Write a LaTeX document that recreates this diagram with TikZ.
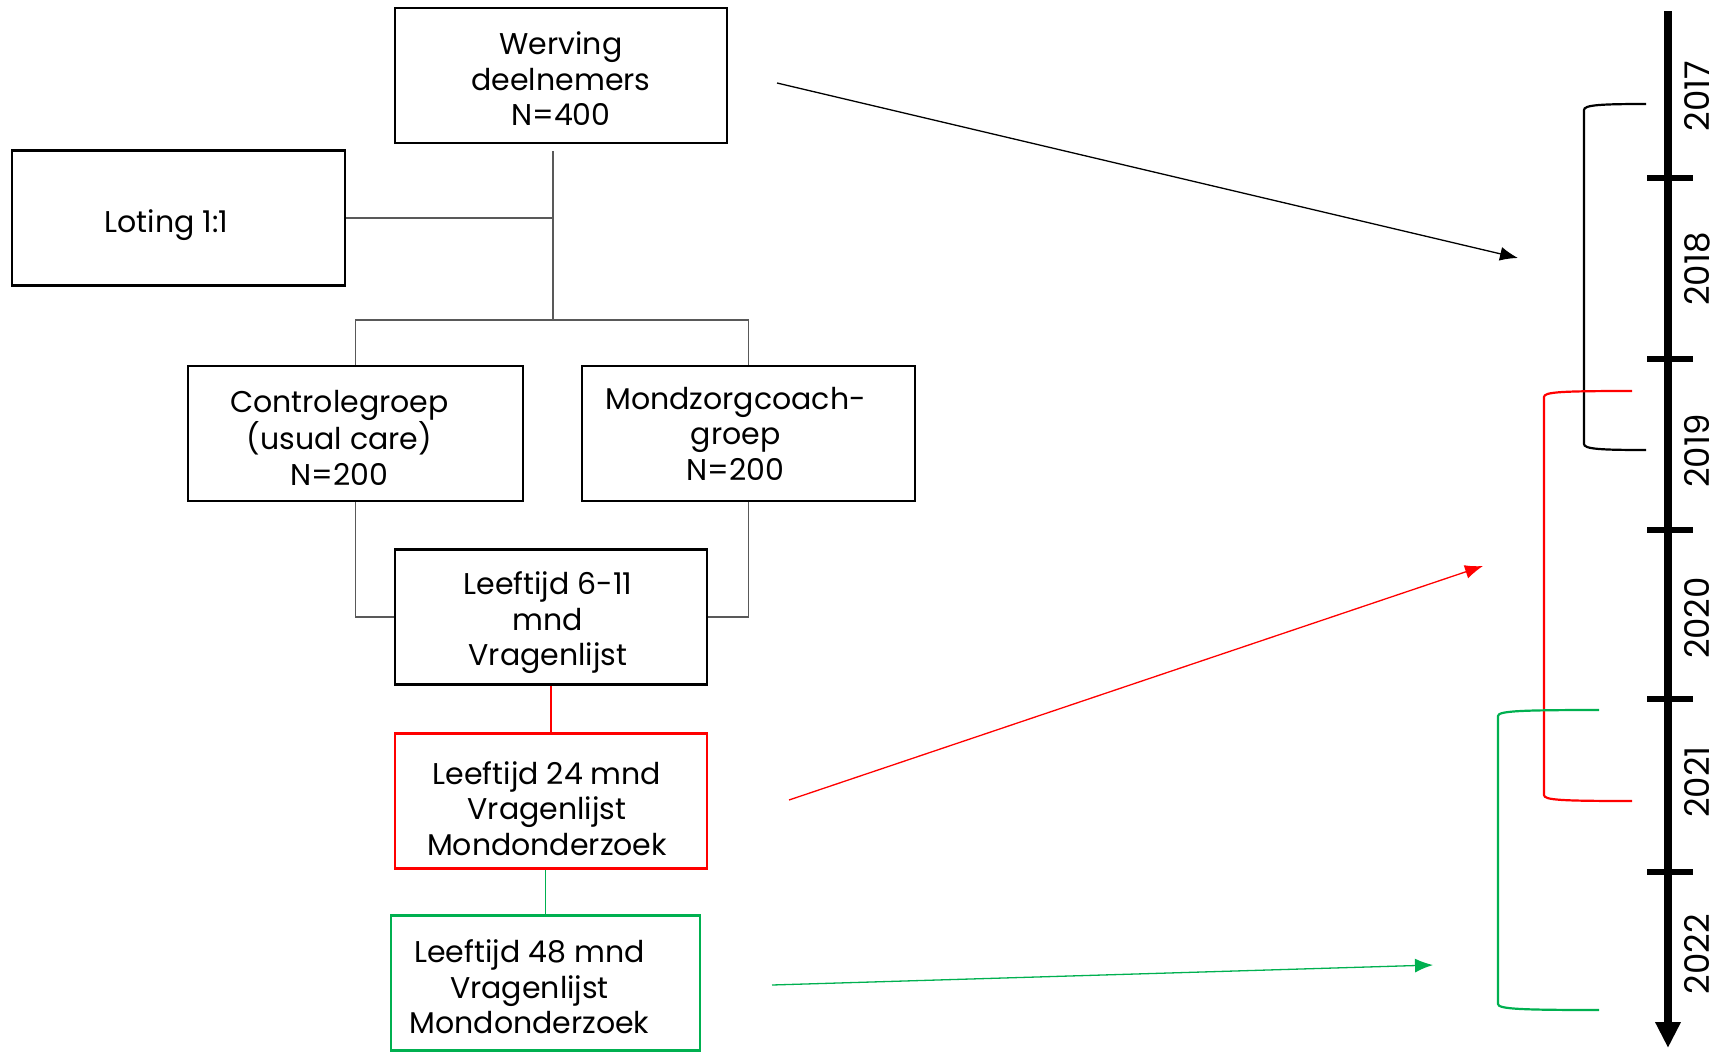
\documentclass[tikz,border=0pt]{standalone}
\usepackage{fontspec}
\setmainfont{Poppins}
\usetikzlibrary{arrows.meta,calc,positioning}
\definecolor{linkgrey}{HTML}{595959}
\definecolor{mzred}{HTML}{FF0000}
\definecolor{mzgreen}{HTML}{00B050}

\tikzset{
  box/.style={draw, line width=2.5pt, inner sep=0pt, minimum height=135pt},
  boxtext/.style={align=center, inner sep=0pt, font=\fontsize{30}{35.5}\selectfont},
  link/.style={draw=linkgrey, line width=1.6pt},
  flow/.style={line width=1.3pt, -{Latex[length=18pt,width=14pt]}},
  bracket/.style={line width=2.2pt},
  year/.style={rotate=90, inner sep=0pt, font=\fontsize{34}{36}\selectfont},
}

\begin{document}
\begin{tikzpicture}[x=1pt,y=-1pt]
        \useasboundingbox (0,0) rectangle (1716,1052);

        % flow chart
        \node[box, minimum width=332pt,
              label={[boxtext, yshift=-3.5pt]center:Werving\\deelnemers\\N=400}] (werving) at (561,75.5) {};
        \node[box, minimum width=333pt,
              label={[boxtext, xshift=-12pt, yshift=-7.5pt]center:Loting 1:1}] (loting) at (178.5,218) {};
        \node[box, minimum width=335pt,
              label={[boxtext, xshift=-16pt, yshift=-4.5pt]center:Controlegroep\\(usual care)\\N=200}] (ctrl) at (355.5,433.5) {};
        \node[box, minimum width=333pt,
              label={[boxtext, xshift=-13pt]center:Mondzorgcoach-\\groep\\N=200}] (coach) at (748.5,433.5) {};
        \node[box, minimum width=312pt,
              label={[boxtext, xshift=-3pt, yshift=-6pt]center:Leeftijd 6-11\\mnd\\Vragenlijst}] (age1) at (551,617) {};
        \node[box, draw=mzred, minimum width=312pt,
              label={[boxtext, xshift=-4pt, yshift=-7.5pt]center:Leeftijd 24 mnd\\Vragenlijst\\Mondonderzoek}] (age24) at (551,801) {};
        \node[box, draw=mzgreen, minimum width=309pt,
              label={[boxtext, xshift=-16pt, yshift=-4pt]center:Leeftijd 48 mnd\\Vragenlijst\\Mondonderzoek}] (age48) at (545.5,983) {};

        \coordinate (hub) at (553,320);
        \draw[link] ($(werving.south -| hub)+(0,7)$) -- (hub);
        \draw[link] (loting.east) -- (loting.east -| hub);
        \draw[link] (ctrl.north) |- (hub) -| (coach.north);
        \draw[link] (ctrl.south) |- (age1.west);
        \draw[link] (coach.south) |- (age1.east);
        \draw[mzred, line width=1.3pt] (age1.south) -- (age24.north);
        \draw[mzgreen, line width=1.3pt] (age48.north) -- (age48.north |- age24.south);

        % arrows to the time line
        \coordinate (from1) at (777,83);
        \coordinate (to1) at (1518,258);
        \coordinate (from24) at (789,800);
        \coordinate (to24) at (1483,566);
        \coordinate (from48) at (772,985);
        \coordinate (to48) at (1433,965);
        \draw[flow] (from1) -- (to1);
        \draw[flow, mzred] (from24) -- (to24);
        \draw[flow, mzgreen] (from48) -- (to48);

        % time line
        \coordinate (tstart) at (1668,11);
        \coordinate (tend) at (1668,1048);
        \draw[line width=8pt, -{Triangle[length=26pt,width=24pt]}] (tstart) -- (tend);
        \foreach \ty in {178,359,530,699,872}
            \draw[line width=6pt] (1647,\ty) -- (1693,\ty);
        \node[year] (y2017) at (1697,96) {2017};
        \node[year] (y2018) at (1697,269) {2018};
        \node[year] (y2019) at (1697,451) {2019};
        \node[year] (y2020) at (1697,618) {2020};
        \node[year] (y2021) at (1697,782) {2021};
        \node[year] (y2022) at (1697,954) {2022};

        % brackets
        \draw[bracket] (1646,104) .. controls (1600,104) and (1584,105) .. (1584,110)
            -- (1584,444) .. controls (1584,449) and (1600,450) .. (1646,450);
        \draw[bracket, mzred] (1632,391) .. controls (1560,391) and (1544,392) .. (1544,397)
            -- (1544,795) .. controls (1544,800) and (1560,801) .. (1632,801);
        \draw[bracket, mzgreen] (1599,710) .. controls (1520,710) and (1498,711) .. (1498,716)
            -- (1498,1004) .. controls (1498,1009) and (1520,1010) .. (1599,1010);
    \end{tikzpicture}
\end{document}
